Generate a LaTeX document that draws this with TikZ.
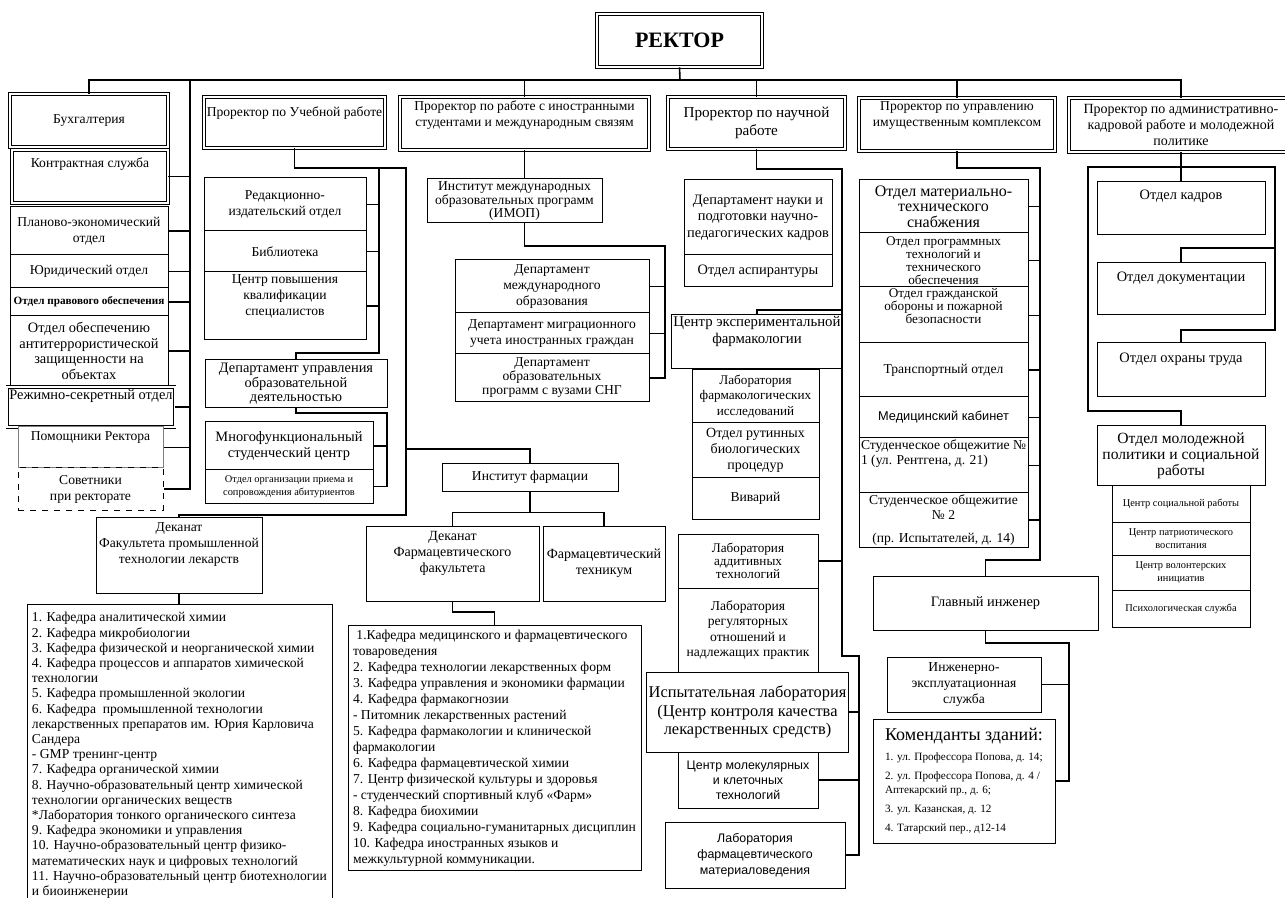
\documentclass[tikz,border=0pt]{standalone}
\usepackage{fontspec}
\setmainfont{Liberation Serif}
\newfontfamily\sansf{Liberation Sans}
\newcommand\fsz[2]{\fontsize{#1}{#2}\selectfont}

\tikzset{
  box/.style={draw, line width=0.5pt, fill=white, align=center, inner sep=1pt, font=\fsz{6.8}{8}},
  dbox/.style={box, double, double distance=0.9pt, line width=0.4pt},
  sz/.style 2 args={minimum width=#1*0.5pt, minimum height=#2*0.5pt},
  link/.style={line width=0.8pt},
}

\begin{document}
\begin{tikzpicture}[x=0.5pt, y=-0.5pt]
  \useasboundingbox[fill=white] (0,0) rectangle (1285,898);

  % top level
  \node[dbox, sz={165}{53}, font=\bfseries\fsz{11}{13}] (rector) at (679.5,40.5) {РЕКТОР};

  % left column
  \node[dbox, sz={158}{53}] (buh) at (89,120.5) {Бухгалтерия};
  \node[dbox, sz={156}{53}] (kontr) at (90,176.5) {Контрактная служба\\[6pt]~};
  \node[box, sz={158}{48}] (plan) at (89,231) {Планово-экономический\\отдел};
  \node[box, sz={158}{33}] (yur) at (89,271.5) {Юридический отдел};
  \node[box, sz={158}{28}, font=\bfseries\fsz{5.6}{6.4}] (prav) at (89,302) {Отдел правового обеспечения};
  \node[box, sz={158}{70}, font=\fsz{7.2}{7.7}] (antiterr) at (89,351) {Отдел обеспечению\\антитеррористической\\защищенности на\\объектах};
  \node[dbox, sz={158}{40}, font=\fsz{7.2}{8}] (rezhim) at (91,407) {Режимно-секретный отдел\\[4pt]~};
  \node[box, draw=gray, sz={145}{41}] (pomosch) at (90.5,447.5) {Помощники Ректора\\[3pt]~};
  \node[box, dashed, sz={145}{42}] (sovet) at (90.5,489) {Советники\\при ректорате};

  % educational work
  \node[dbox, sz={181}{51}] (prouch) at (294.5,122.5) {Проректор по Учебной работе\\[3pt]~};
  \node[box, sz={162}{53}] (redak) at (285,204.5) {Редакционно-\\издательский отдел};
  \node[box, sz={162}{41}] (bibl) at (285,251.5) {Библиотека};
  \node[box, sz={162}{68}] (cpk) at (285,306) {Центр повышения\\квалификации\\специалистов\\[3pt]~};
  \node[box, sz={182}{48}, font=\fsz{7.2}{7.2}] (dupr) at (296,384) {Департамент управления\\образовательной\\деятельностью};
  \node[box, sz={168}{48}, font=\fsz{7.2}{8}] (mfc) at (289,446) {Многофункциональный\\студенческий центр};
  \node[box, sz={168}{33}, font=\fsz{5.2}{6.4}] (otdpr) at (289,486.5) {Отдел организации приема и\\сопровождения абитуриентов};
  \node[box, sz={166}{76}] (dekfpt) at (179,555) {Деканат\\Факультета промышленной\\технологии лекарств\\[4pt]~};
  \node[box, sz={305}{302}, anchor=north, align=left, font=\fsz{6.8}{7.6}] (kaffpt) at (179.5,604) {%
    1. Кафедра аналитической химии\\
    2. Кафедра микробиологии\\
    3. Кафедра физической и неорганической химии\\
    4. Кафедра процессов и аппаратов химической\\
    технологии\\
    5. Кафедра промышленной экологии\\
    6. Кафедра \ промышленной технологии\\
    лекарственных препаратов им. Юрия Карловича\\
    Сандера\\
    - GMP тренинг-центр\\
    7. Кафедра органической химии\\
    8. Научно-образовательный центр химической\\
    технологии органических веществ\\
    *Лаборатория тонкого органического синтеза\\
    9. Кафедра экономики и управления\\
    10. Научно-образовательный центр физико-\\
    математических наук и цифровых технологий\\
    11. Научно-образовательный центр биотехнологии\\
    и биоинженерии};

  % international
  \node[dbox, sz={249}{53}] (prointl) at (524.5,123.5) {Проректор по работе с иностранными\\студентами и международным связям\\[2pt]~};
  \node[box, sz={175}{44}, font=\fsz{6.8}{6.8}] (imop) at (514.5,201) {Институт международных\\образовательных программ\\(ИМОП)};
  \node[box, sz={194}{53}] (dep1) at (552,286.5) {Департамент\\международного\\образования};
  \node[box, sz={194}{41}] (dep2) at (552,333.5) {Департамент миграционного\\учета иностранных граждан};
  \node[box, sz={194}{48}, font=\fsz{6.8}{7}] (dep3) at (552,378) {Департамент\\образовательных\\программ с вузами СНГ};

  % pharmacy
  \node[box, sz={176}{27}] (instf) at (530,477.5) {Институт фармации};
  \node[box, sz={173}{75}, font=\fsz{7}{8}] (dekf) at (452.5,563.5) {Деканат\\Фармацевтического\\факультета\\[4pt]~};
  \node[box, sz={122}{75}, font=\fsz{7}{8}] (tekh) at (604,563.5) {Фармацевтический\\техникум};
  \node[box, sz={293}{245}, anchor=north, align=left, font=\fsz{6.8}{8}] (kaff) at (494.5,625) {%
    \ 1.Кафедра медицинского и фармацевтического\\
    товароведения\\
    2. Кафедра технологии лекарственных форм\\
    3. Кафедра управления и экономики фармации\\
    4. Кафедра фармакогнозии\\
    - Питомник лекарственных растений\\
    5. Кафедра фармакологии и клинической\\
    фармакологии\\
    6. Кафедра фармацевтической химии\\
    7. Центр физической культуры и здоровья\\
    - студенческий спортивный клуб «Фарм»\\
    8. Кафедра биохимии\\
    9. Кафедра социально-гуманитарных дисциплин\\
    10. Кафедра иностранных языков и\\
    межкультурной коммуникации.};

  % science
  \node[dbox, sz={177}{52}, font=\fsz{7.6}{9}] (pronauch) at (756.5,123) {Проректор по научной\\работе};
  \node[box, sz={148}{75}, font=\fsz{7.2}{8.2}] (depnauki) at (758,217.5) {Департамент науки и\\подготовки научно-\\педагогических кадров};
  \node[box, sz={148}{32}, font=\fsz{7.2}{8}] (aspir) at (758,271) {Отдел аспирантуры};
  \node[box, sz={158}{53}, font=\fsz{7.4}{8.6}] (cef) at (757,341.5) {Центр экспериментальной\\фармакологии\\[3pt]~};
  \node[box, sz={127}{53}, font=\fsz{6.6}{7.6}] (labfarm) at (755.5,396.5) {Лаборатория\\фармакологических\\исследований};
  \node[box, sz={127}{55}, font=\fsz{7}{8}] (rutin) at (755.5,450.5) {Отдел рутинных\\биологических\\процедур};
  \node[box, sz={127}{41}] (vivar) at (755.5,498.5) {Виварий};
  \node[box, sz={140}{54}, font=\fsz{6.6}{6.6}] (labadd) at (748,561) {Лаборатория\\аддитивных\\технологий};
  \node[box, sz={140}{84}, font=\fsz{6.8}{7.8}] (labreg) at (748,630) {Лаборатория\\регуляторных\\отношений и\\надлежащих практик};
  \node[box, sz={195}{80}, font=\fsz{8.2}{9.4}] (ispyt) at (747.5,712) {Испытательная лаборатория\\(Центр контроля качества\\лекарственных средств)};
  \node[box, sz={140}{56}, font=\sansf\fsz{6.2}{7.6}] (cmkt) at (748,780) {Центр молекулярных\\и клеточных\\технологий};
  \node[box, sz={180}{66}, font=\sansf\fsz{6.2}{8}] (labmat) at (755,855) {Лаборатория\\фармацевтического\\материаловедения};

  % property complex
  \node[dbox, sz={196}{53}] (proim) at (957,124.5) {Проректор по управлению\\имущественным комплексом\\[2pt]~};
  \node[box, sz={169}{53}, font=\fsz{8}{7.8}] (omts) at (943.5,206.5) {Отдел материально-\\технического\\снабжения};
  \node[box, sz={169}{55}, font=\fsz{6.6}{6.5}] (oprog) at (943.5,260.5) {Отдел программных\\технологий и\\технического\\обеспечения};
  \node[box, sz={169}{55}, font=\fsz{6.6}{6.6}] (ogo) at (943.5,315.5) {Отдел гражданской\\обороны и пожарной\\безопасности\\[3pt]~};
  \node[box, sz={169}{54}] (otrans) at (943.5,370) {Транспортный отдел};
  \node[box, sz={169}{41}, font=\sansf\fsz{6.4}{8}] (omed) at (943.5,417.5) {Медицинский кабинет};
  \node[box, sz={169}{55}, align=left, font=\fsz{6.8}{7.4}] (obsh1) at (943.5,465.5) {Студенческое общежитие №\\1 (ул. Рентгена, д. 21)\\[6pt]~};
  \node[box, sz={169}{54}, font=\fsz{6.8}{7.6}] (obsh2) at (943.5,520) {Студенческое общежитие\\№ 2\\[4pt](пр. Испытателей, д. 14)};
  \node[box, sz={225}{54}, font=\fsz{7.2}{8}] (glav) at (985.5,603) {Главный инженер};
  \node[box, sz={154}{55}] (inzh) at (964,684.5) {Инженерно-\\эксплуатационная\\служба};
  \node[box, sz={182}{124}, align=left, font=\fsz{5.6}{7}] (komend) at (964,781) {%
    {\fsz{9}{11}Коменданты зданий:}\\[3pt]
    1. ул. Профессора Попова, д. 14;\\[2.5pt]
    2. ул. Профессора Попова, д. 4 /\\
    Аптекарский пр., д. 6;\\[2.5pt]
    3. ул. Казанская, д. 12\\[2.5pt]
    4. Татарский пер., д12-14};

  % administration and personnel
  \node[dbox, sz={224}{54}, font=\fsz{7}{8}] (proadm) at (1181,125) {Проректор по административно-\\кадровой работе и молодежной\\политике};
  \node[box, sz={168}{53}, font=\fsz{7.2}{8}] (okadr) at (1181,208.5) {Отдел кадров\\[6pt]~};
  \node[box, sz={168}{52}, font=\fsz{7.2}{8}] (odoc) at (1181,289) {Отдел документации\\[4pt]~};
  \node[box, sz={168}{54}, font=\fsz{7.2}{8}] (ohr) at (1181,370) {Отдел охраны труда\\[4pt]~};
  \node[box, sz={168}{60}, font=\fsz{7.8}{8}] (omol) at (1181,456) {Отдел молодежной\\политики и социальной\\работы};
  \node[box, sz={138}{36}, font=\fsz{5.2}{6.2}] (csr) at (1181,504) {Центр социальной работы};
  \node[box, sz={138}{33}, font=\fsz{5.2}{6.2}] (cpv) at (1181,538.5) {Центр патриотического\\воспитания};
  \node[box, sz={138}{35}, font=\fsz{5.2}{6.2}] (cvi) at (1181,572.5) {Центр волонтерских\\инициатив};
  \node[box, sz={138}{37}, font=\fsz{5.2}{6.2}] (psych) at (1181,608.5) {Психологическая служба};

  % connectors from the rector
  \coordinate (top) at (680,80);
  \coordinate (ls) at (190,80);
  \draw[link] (rector.south) -- (top);
  \draw[link] (buh.north) |- (top) -| (proadm.north);
  \foreach \n in {prointl,pronauch,proim}
    \draw[link] (top) -| (\n.north);
  \foreach \n in {kontr,plan,yur,prav,antiterr,rezhim,pomosch,sovet}
    \draw[link] (ls) |- (\n.east);

  % educational work
  \coordinate (u1) at (379,168);
  \coordinate (u2) at (406,168);
  \coordinate (u3) at (387,413);
  \coordinate (fj) at (530,513);
  \draw[link] (prouch.south) |- (u2) -- (406,515) -| (dekfpt.north);
  \foreach \n in {redak,bibl,cpk}
    \draw[link] (u1) |- (\n.east);
  \draw[link] (u1) -- (379,353) -| (dupr.north);
  \draw[link] (dupr.south) |- (u3) |- (otdpr.east);
  \draw[link] (u3) |- (mfc.east);
  \draw[link] (dekfpt.south) -- (dekfpt.south |- kaffpt.north);
  \draw[link] (406,449) -| (instf.north);
  \draw[link] (instf.south) -- (fj);
  \draw[link] (dekf.north) -- ++(0,-13) -| (tekh.north);
  \draw[link] (dekf.south) |- (494,612) -| (kaff.north);

  % international
  \coordinate (i1) at (665,246);
  \draw[link] (prointl.south) -- (prointl.south |- imop.north);
  \draw[link] (prointl.south |- imop.south) |- (i1) |- (dep3.east);
  \foreach \n in {dep1,dep2}
    \draw[link] (i1) |- (\n.east);

  % science
  \coordinate (n1) at (842,169);
  \coordinate (n2) at (859,656);
  \draw[link] (pronauch.south) |- (n1) -- (842,656) -- (n2) |- (labmat.east);
  \draw[link] (cef.north) |- (842,310);
  \draw[link] (n1) |- (labadd.east);
  \foreach \n in {ispyt,cmkt}
    \draw[link] (n2) |- (\n.east);

  % property complex
  \coordinate (p1) at (1040,168);
  \coordinate (p2) at (1069,643);
  \draw[link] (proim.south) |- (p1) -- (1040,560) -| (glav.north);
  \foreach \n in {omts,oprog,ogo,otrans,omed,obsh1,obsh2}
    \draw[link] (p1) |- (\n.east);
  \draw[link] (glav.south) |- (p2) |- (komend.east);
  \draw[link] (p2) |- (inzh.east);

  % administration and personnel
  \draw[link] (proadm.south) -- (okadr.north);
  \draw[link] (omol.north) |- (1088,411) |- (1275,167) -- (1275,330) -| (ohr.north);
  \draw[link] (1275,248) -| (odoc.north);
\end{tikzpicture}
\end{document}
